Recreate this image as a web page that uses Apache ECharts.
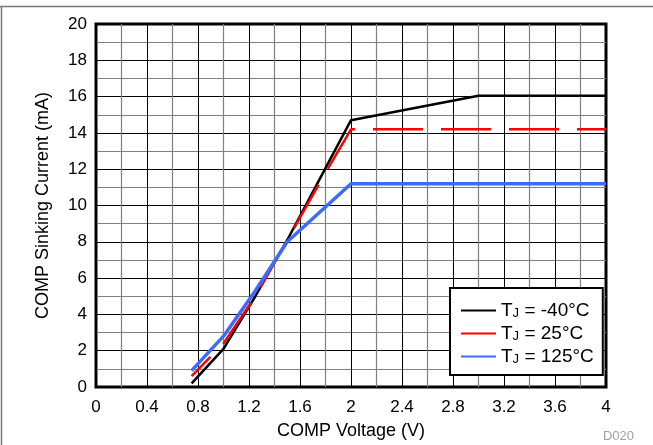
<!DOCTYPE html>
<html>
<head>
<meta charset="utf-8">
<script src="https://cdn.jsdelivr.net/npm/echarts@6/dist/echarts.min.js"></script>
<style>html,body{margin:0;padding:0;background:#fff;}#c{width:653px;height:445px;}</style>
</head>
<body>
<div id="c"></div>
<script>
const voltages = [0.75, 1.0, 1.25, 1.5, 1.75, 2.0, 3.0, 4.0];
const currentM40 = [0.2, 2.1, 5.0, 8.1, 11.4, 14.7, 16.05, 16.05];
const current25 = [0.6, 2.4, 5.0, 8.1, 11.2, 14.2, 14.2, 14.2];
const current125 = [0.9, 2.8, 5.3, 8.0, 9.6, 11.2, 11.2, 11.2];
const seriesNames = ['-40', '25', '125'];
const xTicks = ['0','0.4','0.8','1.2','1.6','2','2.4','2.8','3.2','3.6','4'];

const pair = ys => voltages.map((v, i) => [v, ys[i]]);
const FONT = '"Liberation Sans", Arial, Helvetica, sans-serif';
const chart = echarts.init(document.getElementById('c'));
chart.setOption({
  animation: false,
  textStyle: { fontFamily: FONT },
  grid: { left: 96, top: 24, width: 510, height: 363, show: true, borderColor: '#000', borderWidth: 3, backgroundColor: 'transparent' },
  xAxis: {
    type: 'value', min: 0, max: 4, interval: 0.4,
    name: 'COMP Voltage (V)', nameLocation: 'middle', nameGap: 35,
    nameTextStyle: { fontSize: 18, color: '#000', fontFamily: FONT },
    axisLine: { show: false }, axisTick: { show: false },
    axisLabel: { fontSize: 17, color: '#000', margin: 12, formatter: v => xTicks[Math.round(v / 0.4)] },
    splitLine: { lineStyle: { color: '#000', width: 1 } },
    minorTick: { show: false, splitNumber: 2 },
    minorSplitLine: { show: true, lineStyle: { color: '#808080', width: 1.2 } }
  },
  yAxis: {
    type: 'value', min: 0, max: 20, interval: 2,
    name: 'COMP Sinking Current (mA)', nameLocation: 'middle', nameGap: 44,
    nameTextStyle: { fontSize: 18, color: '#000', fontFamily: FONT },
    axisLine: { show: false }, axisTick: { show: false },
    axisLabel: { fontSize: 17, color: '#000', margin: 9 },
    splitLine: { lineStyle: { color: '#000', width: 1 } },
    minorTick: { show: false, splitNumber: 2 },
    minorSplitLine: { show: true, lineStyle: { color: '#808080', width: 1.2 } }
  },
  legend: {
    orient: 'vertical', left: 450, top: 288,
    backgroundColor: '#fff', borderColor: '#000', borderWidth: 2,
    padding: [9, 9, 9, 10], itemGap: 0, itemWidth: 35, itemHeight: 14,
    data: [
      { name: '-40', itemStyle: { opacity: 0 } },
      { name: '25', lineStyle: { type: 'solid' }, itemStyle: { opacity: 0 } },
      { name: '125', itemStyle: { opacity: 0 } }
    ],
    formatter: n => '{t|T}{s|J}{t| = ' + n + '°C}',
    textStyle: {
      fontFamily: FONT, color: '#000',
      rich: {
        t: { fontSize: 19, lineHeight: 19, verticalAlign: 'top', fontFamily: FONT, color: '#000' },
        s: { fontSize: 13, lineHeight: 13, verticalAlign: 'bottom', padding: [10, 0, 0, 0], fontFamily: FONT, color: '#000' }
      }
    }
  },
  series: [
    { name: seriesNames[0], type: 'line', data: pair(currentM40), showSymbol: false, symbol: 'none', z: 3,
      lineStyle: { color: '#000', width: 2.5 }, itemStyle: { color: '#000' } },
    { name: seriesNames[1], type: 'line', data: pair(current25), showSymbol: false, symbol: 'none', z: 4,
      lineStyle: { color: '#ff0000', width: 2.5, type: [50, 18], dashOffset: 23 }, itemStyle: { color: '#ff0000' } },
    { name: seriesNames[2], type: 'line', data: pair(current125), showSymbol: false, symbol: 'none', z: 5,
      lineStyle: { color: '#3d6bff', width: 3.5 }, itemStyle: { color: '#3d6bff' } }
  ],
  graphic: [
    { type: 'line', shape: { x1: 0, y1: 6.5, x2: 653, y2: 6.5 }, style: { stroke: '#777', lineWidth: 1.5 }, silent: true },
    { type: 'line', shape: { x1: 1.5, y1: 6, x2: 1.5, y2: 445 }, style: { stroke: '#777', lineWidth: 1.5 }, silent: true },
    { type: 'text', right: 19, bottom: 2, style: { text: 'D020', fontSize: 13, fill: '#a0a0a0', fontFamily: FONT } }
  ]
});
</script>
</body>
</html>
